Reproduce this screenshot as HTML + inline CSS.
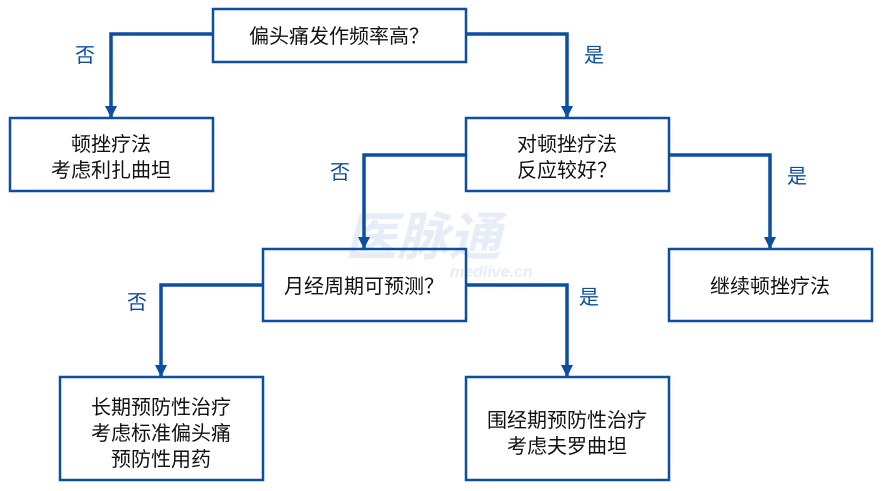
<!DOCTYPE html>
<html><head><meta charset="utf-8"><style>
html,body{margin:0;padding:0;background:#fff;}
svg{display:block;}
text{font-family:"Liberation Sans","Noto Sans CJK SC",sans-serif;}
</style></head><body>
<svg width="882" height="491" viewBox="0 0 882 491" xmlns="http://www.w3.org/2000/svg">
<defs>
<marker id="a" markerWidth="12" markerHeight="12" refX="11" refY="6" orient="auto" markerUnits="userSpaceOnUse" viewBox="0 0 12 12">
<path d="M0,0 L12,6 L0,12 Z" fill="#0b4ea2"/>
</marker>
</defs>
<text x="345" y="255" font-size="52" font-weight="bold" fill="#e6edf6" font-style="italic">医脉通</text>
<text x="450" y="277" font-size="16" font-weight="bold" fill="#e6edf6" font-style="italic">medlive.cn</text>

<g fill="none" stroke="#0b4ea2" stroke-width="3.5">
<polyline points="213,34 111,34 111,117" marker-end="url(#a)"/>
<polyline points="466,34 567,34 567,117" marker-end="url(#a)"/>
<polyline points="466,155 364,155 364,248" marker-end="url(#a)"/>
<polyline points="669,155 770,155 770,248" marker-end="url(#a)"/>
<polyline points="263,285 161,285 161,376" marker-end="url(#a)"/>
<polyline points="466,285 567,285 567,376" marker-end="url(#a)"/>
</g>
<g fill="none" stroke="#0b4ea2" stroke-width="2.5">
<rect x="213" y="9" width="253" height="53" fill="#fff"/>
<rect x="10" y="118" width="203" height="73" fill="#fff"/>
<rect x="466" y="118" width="203" height="73" fill="#fff"/>
<rect x="263" y="249" width="203" height="72"/>
<rect x="669" y="249" width="203" height="72" fill="#fff"/>
<rect x="60" y="377" width="203" height="103" fill="#fff"/>
<rect x="466" y="377" width="203" height="103" fill="#fff"/>
</g>
<g font-size="20" fill="#111" text-anchor="middle">
<text x="339" y="43">偏头痛发作频率高？</text>
<text x="111" y="151">顿挫疗法</text>
<text x="111" y="177">考虑利扎曲坦</text>
<text x="567" y="151">对顿挫疗法</text>
<text x="567" y="177">反应较好？</text>
<text x="364" y="293">月经周期可预测？</text>
<text x="770" y="293">继续顿挫疗法</text>
<text x="161" y="414">长期预防性治疗</text>
<text x="161" y="440">考虑标准偏头痛</text>
<text x="161" y="466">预防性用药</text>
<text x="567" y="427">围经期预防性治疗</text>
<text x="567" y="453">考虑夫罗曲坦</text>
</g>
<g font-size="20" fill="#0b4ea2" text-anchor="middle">
<text x="85" y="62">否</text>
<text x="594" y="62">是</text>
<text x="340" y="179">否</text>
<text x="797" y="183">是</text>
<text x="137" y="309">否</text>
<text x="589" y="304">是</text>
</g>
</svg>
</body></html>
